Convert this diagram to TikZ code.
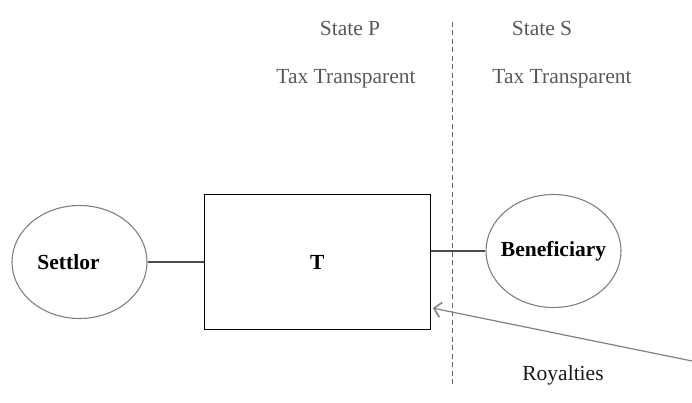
\documentclass[tikz,border=0pt]{standalone}
\usepackage{fontspec}
\setmainfont{Liberation Serif}
\usetikzlibrary{arrows.meta,positioning,shapes.geometric}

\definecolor{edgegray}{HTML}{808080}
\definecolor{textgray}{HTML}{595959}
\newcommand{\diagfont}{\fontsize{21.5}{25}\selectfont}

\tikzset{
  party/.style={ellipse,draw=edgegray,line width=1.1pt,minimum width=135pt,
    minimum height=113pt,inner sep=0pt,inner xsep=-6pt,font=\diagfont\bfseries},
  trustbox/.style={rectangle,draw=black,line width=1.3pt,minimum width=226pt,
    minimum height=135pt,inner sep=0pt,font=\diagfont\bfseries},
  statelabel/.style={text=textgray},
  link/.style={draw=black!70,line width=1.2pt},
}

\begin{document}
\begin{tikzpicture}[x=1pt,y=-1pt,font=\diagfont,node distance=56pt]
  \useasboundingbox (0,0) rectangle (692,403);

  \node[party] (settlor) at (79.5,262) {\hspace*{-11pt}Settlor\hspace*{11pt}};
  \node[trustbox] (t) [right=56pt of settlor] {T};
  \node[party] (ben) at (553.5,251) {Beneficiary};

  \node[statelabel] (sp) at (350,28) {State P};
  \node[statelabel] (tp) at (346,79) {Tax Transparent};
  \node[statelabel] (ss) at (542,28) {State S};
  \node[statelabel] (ts) at (562,79) {Tax Transparent};
  \node[text=black!90] (roy) at (563,375) {Royalties};

  % border between the two states
  \coordinate (bordertop) at (452,22);
  \coordinate (borderbot) at (452,384);
  \draw[black!60,line width=1pt,dash pattern=on 5pt off 3.5pt] (bordertop) -- (borderbot);

  \path[link] (settlor) -- (t)
              (t.east |- ben) -- (ben);

  \coordinate (paysrc) at (692,361);
  \draw[edgegray,line width=1.2pt,-{Straight Barb[length=7pt,width=15pt,line width=1.6pt]}]
    (paysrc) -- ([shift={(2,-22)}]t.south east);
\end{tikzpicture}
\end{document}
